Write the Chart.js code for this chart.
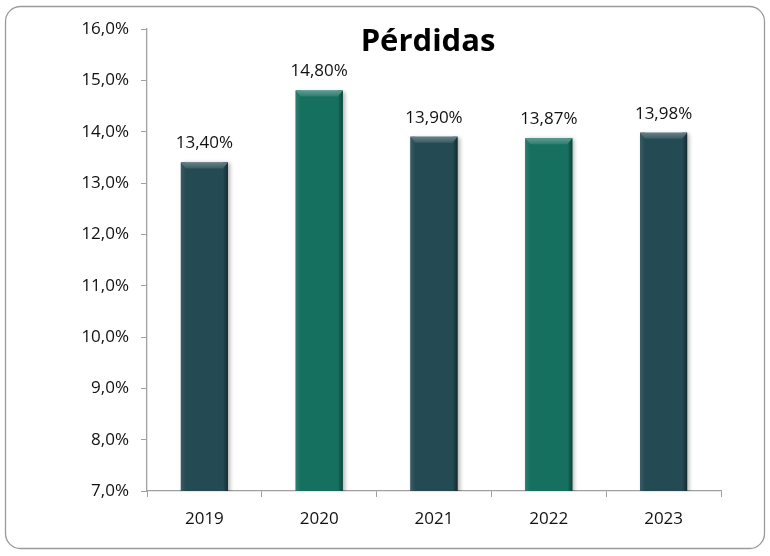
<!DOCTYPE html>
<html>
<head>
<meta charset="utf-8">
<script src="https://cdn.jsdelivr.net/npm/chart.js@4.4.1/dist/chart.umd.min.js"></script>
<style>
  html, body { margin: 0; padding: 0; background: #fff; }
  #wrap { width: 770px; height: 556px; position: relative; }
</style>
</head>
<body>
<div id="wrap"><canvas id="chart"></canvas></div>
<script>
// Chart data
const years = ['2019', '2020', '2021', '2022', '2023'];
const losses = [13.40, 14.80, 13.90, 13.87, 13.98];
const barColors = ['#244a53', '#16705f', '#244a53', '#16705f', '#244a53'];
const chartTitle = 'Pérdidas';
const yMin = 7;
const yMax = 16;

const FONT = '"Open Sans", "DejaVu Sans", sans-serif';

// Format number with comma decimal separator
function fmt(v, digits) {
  return v.toFixed(digits).replace('.', ',') + '%';
}

// Lighten / darken a hex colour
function shade(hex, amt) {
  const n = parseInt(hex.slice(1), 16);
  let r = (n >> 16) & 255, g = (n >> 8) & 255, b = n & 255;
  const f = c => Math.max(0, Math.min(255, Math.round(amt > 0 ? c + (255 - c) * amt : c * (1 + amt))));
  return `rgb(${f(r)}, ${f(g)}, ${f(b)})`;
}

// Rounded frame around the whole chart
const framePlugin = {
  id: 'frame',
  beforeDraw(chart) {
    const ctx = chart.ctx;
    const x = 5.5, y = 6.5, w = 759, h = 542, r = 15;
    ctx.save();
    ctx.beginPath();
    ctx.moveTo(x + r, y);
    ctx.arcTo(x + w, y, x + w, y + h, r);
    ctx.arcTo(x + w, y + h, x, y + h, r);
    ctx.arcTo(x, y + h, x, y, r);
    ctx.arcTo(x, y, x + w, y, r);
    ctx.closePath();
    ctx.strokeStyle = '#9a9a9a';
    ctx.lineWidth = 1.3;
    ctx.stroke();
    ctx.restore();
  }
};

// Shadow under the bars
const shadowPlugin = {
  id: 'barShadow',
  beforeDatasetsDraw(chart) {
    const ctx = chart.ctx;
    ctx.save();
    ctx.shadowColor = 'rgba(0,0,0,0.3)';
    ctx.shadowBlur = 4;
    ctx.shadowOffsetX = 2;
    ctx.shadowOffsetY = 1;
  },
  afterDatasetsDraw(chart) {
    chart.ctx.restore();
  }
};

// Bevel look + value labels + title
const bevelPlugin = {
  id: 'bevel',
  afterDatasetsDraw(chart) {
    const ctx = chart.ctx;
    const bottom = chart.chartArea.bottom;
    const meta = chart.getDatasetMeta(0);
    meta.data.forEach((bar, i) => {
      const { x, y, width } = bar.getProps(['x', 'y', 'width'], true);
      const left = x - width / 2, right = x + width / 2;
      const col = barColors[i];
      const b = 5;
      const h = bottom - y;
      ctx.save();
      // left edge highlight
      let g = ctx.createLinearGradient(left, 0, left + b, 0);
      g.addColorStop(0, shade(col, 0.1));
      g.addColorStop(1, shade(col, 0));
      ctx.fillStyle = g;
      ctx.fillRect(left, y, b, h);
      // right edge shadow
      g = ctx.createLinearGradient(right - b, 0, right, 0);
      g.addColorStop(0, shade(col, 0));
      g.addColorStop(1, shade(col, -0.4));
      ctx.fillStyle = g;
      ctx.fillRect(right - b, y, b, h);
      // top bevel
      ctx.beginPath();
      ctx.moveTo(left, y);
      ctx.lineTo(right, y);
      ctx.lineTo(right - b, y + b + 1);
      ctx.lineTo(left + b, y + b + 1);
      ctx.closePath();
      g = ctx.createLinearGradient(0, y, 0, y + b + 1);
      g.addColorStop(0, shade(col, 0.3));
      g.addColorStop(1, shade(col, 0.1));
      ctx.fillStyle = g;
      ctx.fill();
      // value label
      ctx.fillStyle = '#111';
      ctx.font = `17px ${FONT}`;
      ctx.textAlign = 'center';
      ctx.textBaseline = 'middle';
      ctx.fillText(fmt(losses[i], 2), x, y - 19);
      ctx.restore();
    });
    // title
    ctx.save();
    ctx.fillStyle = '#000';
    ctx.font = `bold 31px ${FONT}`;
    ctx.textAlign = 'center';
    ctx.textBaseline = 'middle';
    ctx.fillText(chartTitle, 428, 42);
    ctx.restore();
  }
};

function initChart() {
  const ctx = document.getElementById('chart').getContext('2d');
  new Chart(ctx, {
    type: 'bar',
    data: {
      labels: years,
      datasets: [{
        data: losses,
        backgroundColor: barColors,
        borderWidth: 0,
        barPercentage: 0.41,
        categoryPercentage: 1
      }]
    },
    options: {
      responsive: true,
      maintainAspectRatio: false,
      animation: false,
      layout: {
        padding: { left: 40, right: 49, top: 29, bottom: 25 }
      },
      plugins: {
        legend: { display: false },
        tooltip: { enabled: false }
      },
      scales: {
        x: {
          grid: {
            drawOnChartArea: false,
            drawTicks: true,
            tickLength: 6,
            color: '#a0a0a0'
          },
          border: { color: '#a0a0a0', width: 1.3 },
          ticks: {
            color: '#111',
            font: { family: FONT, size: 17 },
            padding: 12
          },
          afterFit(scale) { scale.height = 40; }
        },
        y: {
          min: yMin,
          max: yMax,
          grid: {
            drawOnChartArea: false,
            drawTicks: true,
            tickLength: 6,
            color: '#a0a0a0'
          },
          border: { color: '#a0a0a0', width: 1.3 },
          ticks: {
            stepSize: 1,
            color: '#111',
            font: { family: FONT, size: 17 },
            padding: 12,
            callback: v => fmt(v, 1)
          },
          afterFit(scale) { scale.width = 107; }
        }
      }
    },
    plugins: [framePlugin, shadowPlugin, bevelPlugin]
  });
}

document.addEventListener('DOMContentLoaded', initChart);
</script>
</body>
</html>
